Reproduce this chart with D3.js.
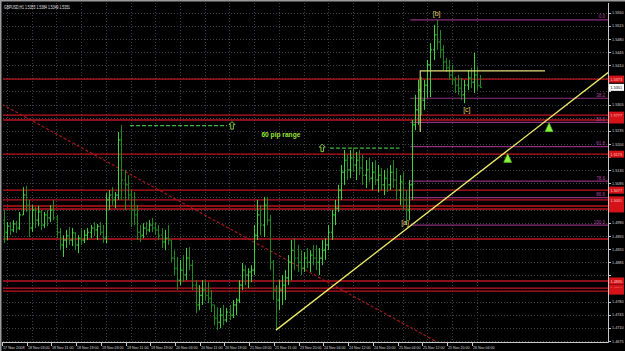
<!DOCTYPE html>
<html>
<head>
<meta charset="utf-8">
<script src="https://cdn.jsdelivr.net/npm/d3@7"></script>
<style>
body { margin: 0; background: #000; }
svg { display: block; font-family: "Liberation Sans", Arial, sans-serif; }
</style>
</head>
<body>
<svg width="625" height="351"></svg>
<script>
// GBPUSD H1 bars: [open, high, low, close]
var bars = [
[1.4997,1.5024,1.4936,1.4965],[1.4965,1.4992,1.4944,1.4981],[1.4981,1.4992,1.4957,1.4971],[1.4971,1.4997,1.4965,1.4987],
[1.4987,1.4995,1.4963,1.4976],[1.4976,1.5019,1.4971,1.5011],[1.5011,1.5085,1.5011,1.5064],[1.5064,1.5088,1.5019,1.5037],
[1.5037,1.5051,1.4952,1.4976],[1.4976,1.5037,1.4965,1.5024],[1.5024,1.5032,1.4976,1.4997],[1.4997,1.5035,1.4981,1.5019],
[1.5019,1.5024,1.4971,1.4984],[1.4984,1.5019,1.4976,1.5011],[1.5011,1.5024,1.4981,1.5003],[1.5003,1.5037,1.4992,1.5024],
[1.5024,1.5051,1.4997,1.5003],[1.5003,1.5011,1.4949,1.4965],[1.4965,1.4976,1.4917,1.4931],[1.4931,1.4957,1.4899,1.4944],
[1.4944,1.4971,1.4923,1.4955],[1.4955,1.4979,1.4931,1.4944],[1.4944,1.4976,1.4928,1.4963],[1.4963,1.4965,1.4917,1.4931],
[1.4931,1.4957,1.4909,1.4949],[1.4949,1.4976,1.4931,1.4944],[1.4944,1.4971,1.4936,1.4957],[1.4957,1.4976,1.4944,1.4965],
[1.4965,1.4984,1.4949,1.4976],[1.4976,1.4992,1.4955,1.4971],[1.4971,1.4987,1.4944,1.4981],[1.4981,1.4992,1.4957,1.4965],
[1.4965,1.4984,1.4936,1.4949],[1.4949,1.5069,1.4936,1.5051],[1.5051,1.5077,1.5024,1.5064],[1.5064,1.5085,1.5037,1.5051],
[1.5051,1.5072,1.5029,1.5064],[1.5064,1.5232,1.5051,1.5211],[1.5211,1.5251,1.5051,1.5104],[1.5104,1.5131,1.5024,1.5091],
[1.5091,1.5117,1.5051,1.5064],[1.5064,1.5077,1.4979,1.5024],[1.5024,1.5072,1.4984,1.5011],[1.5011,1.5037,1.4944,1.4965],
[1.4965,1.4984,1.4939,1.4957],[1.4957,1.4989,1.4949,1.4976],[1.4976,1.4992,1.4957,1.4971],[1.4971,1.4997,1.4965,1.4984],
[1.4984,1.5003,1.4965,1.4976],[1.4976,1.4992,1.4957,1.4971],[1.4971,1.4984,1.4944,1.4957],[1.4957,1.4976,1.4923,1.4939],
[1.4939,1.4971,1.4917,1.4949],[1.4949,1.4984,1.4931,1.4944],[1.4944,1.4944,1.4885,1.4896],[1.4896,1.4917,1.4851,1.4869],
[1.4869,1.4899,1.4811,1.4837],[1.4837,1.4891,1.4824,1.4864],[1.4864,1.4904,1.4832,1.4851],[1.4851,1.4923,1.4837,1.4896],
[1.4896,1.4925,1.4864,1.4877],[1.4877,1.4891,1.4811,1.4824],[1.4824,1.4837,1.4749,1.4771],[1.4771,1.4824,1.4757,1.4797],
[1.4797,1.4837,1.4771,1.4811],[1.4811,1.4837,1.4784,1.4797],[1.4797,1.4832,1.4776,1.4789],[1.4789,1.4811,1.4752,1.4771],
[1.4771,1.4771,1.4717,1.4736],[1.4736,1.4765,1.4704,1.4725],[1.4725,1.4763,1.4709,1.4744],[1.4744,1.4771,1.4717,1.4731],
[1.4731,1.4763,1.4725,1.4752],[1.4752,1.4771,1.4731,1.4744],[1.4744,1.4784,1.4736,1.4771],[1.4771,1.4789,1.4744,1.4784],
[1.4784,1.4837,1.4776,1.4824],[1.4824,1.4883,1.4811,1.4864],[1.4864,1.4877,1.4824,1.4851],[1.4851,1.4869,1.4816,1.4859],
[1.4859,1.4877,1.4832,1.4864],[1.4864,1.4984,1.4851,1.4957],[1.4957,1.5051,1.4944,1.5011],[1.5011,1.5037,1.4957,1.4984],
[1.4984,1.5059,1.4952,1.5037],[1.5037,1.5059,1.4984,1.4997],[1.4997,1.5011,1.4864,1.4885],[1.4885,1.4891,1.4784,1.4811],
[1.4811,1.4824,1.4704,1.4784],[1.4784,1.4837,1.4757,1.4811],[1.4811,1.4851,1.4771,1.4824],[1.4824,1.4864,1.4784,1.4843],
[1.4843,1.4904,1.4824,1.4885],[1.4885,1.4944,1.4837,1.4917],[1.4917,1.4949,1.4864,1.4896],[1.4896,1.4931,1.4859,1.4885],
[1.4885,1.4917,1.4851,1.4869],[1.4869,1.4912,1.4859,1.4896],[1.4896,1.4923,1.4869,1.4885],[1.4885,1.4917,1.4859,1.4904],
[1.4904,1.4931,1.4877,1.4896],[1.4896,1.4931,1.4864,1.4885],[1.4885,1.4923,1.4851,1.4896],[1.4896,1.4944,1.4877,1.4917],
[1.4917,1.4949,1.4891,1.4931],[1.4931,1.4984,1.4917,1.4965],[1.4965,1.5024,1.4944,1.5011],[1.5011,1.5051,1.4984,1.5029],
[1.5029,1.5091,1.5019,1.5077],[1.5077,1.5144,1.5051,1.5125],[1.5125,1.5184,1.5091,1.5157],[1.5157,1.5171,1.5104,1.5131],
[1.5131,1.5184,1.5109,1.5163],[1.5163,1.5189,1.5125,1.5144],[1.5144,1.5179,1.5104,1.5157],[1.5157,1.5184,1.5117,1.5136],
[1.5136,1.5171,1.5091,1.5117],[1.5117,1.5157,1.5083,1.5131],[1.5131,1.5163,1.5099,1.5109],[1.5109,1.5152,1.5077,1.5125],
[1.5125,1.5157,1.5091,1.5104],[1.5104,1.5144,1.5072,1.5117],[1.5117,1.5136,1.5077,1.5091],[1.5091,1.5131,1.5064,1.5109],
[1.5109,1.5136,1.5072,1.5091],[1.5091,1.5144,1.5077,1.5125],[1.5125,1.5157,1.5083,1.5104],[1.5104,1.5136,1.5051,1.5077],
[1.5077,1.5117,1.5037,1.5099],[1.5099,1.5125,1.5024,1.5051],[1.5051,1.5077,1.4984,1.5024],[1.5024,1.5104,1.4997,1.5091],
[1.5091,1.5264,1.5051,1.5251],[1.5251,1.5331,1.5237,1.5291],[1.5291,1.5371,1.5251,1.5344],[1.5344,1.5379,1.5277,1.5317],
[1.5317,1.5371,1.5291,1.5357],[1.5357,1.5424,1.5323,1.5411],[1.5411,1.5469,1.5325,1.5451],[1.5451,1.5517,1.5424,1.5491],
[1.5491,1.5531,1.5451,1.5472],[1.5472,1.5504,1.5429,1.5451],[1.5451,1.5464,1.5397,1.5419],[1.5419,1.5429,1.5392,1.5403],
[1.5403,1.5424,1.5371,1.5384],[1.5384,1.5411,1.5357,1.5371],[1.5371,1.5379,1.5336,1.5357],[1.5357,1.5384,1.5331,1.5349],
[1.5349,1.5376,1.5317,1.5331],[1.5331,1.5371,1.5309,1.5357],[1.5357,1.5397,1.5344,1.5376],[1.5376,1.5403,1.5349,1.5365],
[1.5365,1.5443,1.5336,1.5384],[1.5384,1.5405,1.5344,1.5357],[1.5355,1.5384,1.5349,1.5351]
];

var timeLabels = ["17 Nov 2008","18 Nov 03:00","18 Nov 11:00","18 Nov 19:00","19 Nov 03:00","19 Nov 11:00",
	"19 Nov 19:00","20 Nov 03:00","20 Nov 11:00","20 Nov 19:00","21 Nov 03:00","21 Nov 11:00",
	"23 Nov 20:00","24 Nov 04:00","24 Nov 12:00","24 Nov 20:00","25 Nov 04:00","25 Nov 12:00",
	"25 Nov 20:00","26 Nov 04:00"];
var barsPerLabel = 8;

var priceTicks = [1.5550,1.5515,1.5480,1.5445,1.5410,1.5375,1.5340,1.5305,1.5270,1.5235,1.5200,1.5165,1.5130,
	1.5095,1.5060,1.5025,1.4990,1.4955,1.4920,1.4885,1.4850,1.4815,1.4780,1.4745,1.4710,1.4675];

// horizontal support / resistance lines
var redLevels = [1.5373,1.5277,1.5264,1.5173,1.5077,1.5051,1.5035,1.5027,1.4947,1.4835,1.4816,1.4808];
var redBoxed  = [true,true,true,true,true,true,true,true,false,true,true,true];

// fibonacci from [b] high down to [a] low
var fibHigh = 1.5531, fibLow = 1.4984, fibStartBar = 131.5;
var fibLevels = [0, 38.2, 50, 61.8, 78.6, 86.6, 100];

// trend lines: [bar, price] anchors
var yellowTrend = [[88, 1.4704], [140, 1.5036]];
var redTrend = [[0, 1.5303], [100, 1.4853]];
var yellowFlat = {price: 1.5395, from: 134.7, to: 175.1, bottom: 1.5232};

// 60 pip range markers
var rangeHigh = 1.5249, rangeLow = 1.5189;
var rangeHighBars = [40.8, 72.2], rangeHighArrow = 73.8;
var rangeLowBars = [105.5, 128], rangeLowArrow = 103;
var rangeText = "60 pip range", rangeTextBar = 83.3, rangeTextPrice = 1.5219;

var upArrows = [[176.4, 1.5245], [163, 1.5163]];
var waveLabels = [["[b]", 140, 1.5547], ["[c]", 149.8, 1.5291], ["[a]", 129.8, 1.4992]];

var title = "GBPUSD,H1  1.5355 1.5384 1.5349 1.5351";

var svg = d3.select("svg");
var pLeft = 3, pRight = 608, pTop = 3, pBottom = 342;

var x = d3.scaleLinear().domain([0, 195]).range([4, 4 + 3.09 * 195]);
var y = d3.scaleLinear().domain([1.4675, 1.5550]).range([341, 12.7]);

svg.append("rect").attr("width", 625).attr("height", 351).attr("fill", "#000");
svg.append("defs").append("clipPath").attr("id", "plotclip")
	.append("rect").attr("x", pLeft).attr("y", pTop).attr("width", pRight - pLeft).attr("height", pBottom - pTop);

// grid
var grid = svg.append("g").attr("stroke", "#3a4048").attr("stroke-dasharray", "1,2").attr("stroke-width", 1);
grid.selectAll("line.h").data(priceTicks).enter().append("line")
	.attr("x1", pLeft).attr("x2", pRight)
	.attr("y1", function(d) { return Math.round(y(d)) + 0.5; })
	.attr("y2", function(d) { return Math.round(y(d)) + 0.5; });
grid.selectAll("line.v").data(timeLabels).enter().append("line")
	.attr("x1", function(d, i) { return Math.round(x(i * barsPerLabel)) + 3.5; })
	.attr("x2", function(d, i) { return Math.round(x(i * barsPerLabel)) + 3.5; })
	.attr("y1", pTop).attr("y2", pBottom);

var plot = svg.append("g").attr("clip-path", "url(#plotclip)");

// red descending dashed trend
function lineThrough(a, b, x0, x1) {
	var slope = (b[1] - a[1]) / (b[0] - a[0]);
	return [[x0, a[1] + slope * (x0 - a[0])], [x1, a[1] + slope * (x1 - a[0])]];
}
var rt = lineThrough(redTrend[0], redTrend[1], -2, 200);
plot.append("line")
	.attr("x1", x(rt[0][0])).attr("y1", y(rt[0][1]))
	.attr("x2", x(rt[1][0])).attr("y2", y(rt[1][1]))
	.attr("stroke", "#a3161c").attr("stroke-width", 1.2).attr("stroke-dasharray", "3,2");

// horizontal red levels
plot.selectAll("line.red").data(redLevels).enter().append("line")
	.attr("x1", pLeft).attr("x2", pRight)
	.attr("y1", function(d) { return y(d); }).attr("y2", function(d) { return y(d); })
	.attr("stroke", "#bd1420").attr("stroke-width", 1.4);

// fibonacci lines
var fibs = plot.selectAll("g.fib").data(fibLevels).enter().append("g");
fibs.append("line")
	.attr("x1", x(fibStartBar)).attr("x2", pRight)
	.attr("y1", function(d) { return y(fibHigh - (fibHigh - fibLow) * d / 100); })
	.attr("y2", function(d) { return y(fibHigh - (fibHigh - fibLow) * d / 100); })
	.attr("stroke", "#8e2f7c").attr("stroke-width", 1.2);
fibs.append("text")
	.attr("x", pRight - 3)
	.attr("y", function(d) { return y(fibHigh - (fibHigh - fibLow) * d / 100) - 1.5; })
	.attr("text-anchor", "end").attr("font-size", 4.5).attr("fill", "#b04aa0")
	.text(function(d) { return d.toFixed(1); });

// bars
plot.selectAll("path.bar").data(bars).enter().append("path")
	.attr("d", function(d, i) {
		var cx = Math.round(x(i)) + 0.5;
		return "M" + cx + "," + y(d[1]) + "V" + y(d[2]) +
			"M" + (cx - 1.5) + "," + y(d[0]) + "H" + cx +
			"M" + cx + "," + y(d[3]) + "H" + (cx + 1.5);
	})
	.attr("fill", "none")
	.attr("stroke", function(d) { return d[3] >= d[0] ? "#3fd23f" : "#1f8a1f"; })
	.attr("stroke-width", 1);

// yellow trend ray
var yt = lineThrough(yellowTrend[0], yellowTrend[1], yellowTrend[0][0], 200);
plot.append("line")
	.attr("x1", x(yt[0][0])).attr("y1", y(yt[0][1]))
	.attr("x2", x(yt[1][0])).attr("y2", y(yt[1][1]))
	.attr("stroke", "#f2ee6a").attr("stroke-width", 1.3);

// yellow flat line with drop
plot.append("path")
	.attr("d", "M" + x(yellowFlat.to) + "," + y(yellowFlat.price) +
		"H" + x(yellowFlat.from) + "V" + y(yellowFlat.bottom))
	.attr("fill", "none").attr("stroke", "#e8e07a").attr("stroke-width", 1.1);

// 60 pip range
plot.append("line")
	.attr("x1", x(rangeHighBars[0])).attr("x2", x(rangeHighBars[1]))
	.attr("y1", y(rangeHigh)).attr("y2", y(rangeHigh))
	.attr("stroke", "#3fb83f").attr("stroke-width", 1.2).attr("stroke-dasharray", "4,2");
plot.append("line")
	.attr("x1", x(rangeLowBars[0])).attr("x2", x(rangeLowBars[1]))
	.attr("y1", y(rangeLow)).attr("y2", y(rangeLow))
	.attr("stroke", "#3fb83f").attr("stroke-width", 1.2).attr("stroke-dasharray", "4,2");

function hollowArrow(g, cx, cy) {
	g.append("path")
		.attr("d", "M" + cx + "," + (cy - 4) + "L" + (cx + 3) + "," + (cy - 1) + "H" + (cx + 1.3) +
			"V" + (cy + 3.5) + "H" + (cx - 1.3) + "V" + (cy - 1) + "H" + (cx - 3) + "Z")
		.attr("fill", "none").attr("stroke", "#8fe04a").attr("stroke-width", 0.9);
}
hollowArrow(plot, x(rangeHighArrow), y(rangeHigh));
hollowArrow(plot, x(rangeLowArrow), y(rangeLow));

plot.append("text")
	.attr("x", x(rangeTextBar)).attr("y", y(rangeTextPrice))
	.attr("font-size", 7).attr("font-weight", "bold").attr("fill", "#9ae636")
	.attr("textLength", 39).attr("lengthAdjust", "spacingAndGlyphs")
	.text(rangeText);

// solid up arrows
plot.selectAll("path.up").data(upArrows).enter().append("path")
	.attr("d", function(d) {
		var cx = x(d[0]), cy = y(d[1]);
		return "M" + cx + "," + (cy - 4.5) + "L" + (cx + 4) + "," + (cy + 4.5) + "L" + (cx - 4) + "," + (cy + 4.5) + "Z";
	})
	.attr("fill", "#8cf03c").attr("stroke", "#4cc01c").attr("stroke-width", 0.6);

// wave labels
plot.selectAll("text.wave").data(waveLabels).enter().append("text")
	.attr("x", function(d) { return x(d[1]); })
	.attr("y", function(d) { return y(d[2]) + 2.5; })
	.attr("text-anchor", "middle").attr("font-size", 7).attr("fill", "#e6cf6a")
	.text(function(d) { return d[0]; });

// axes frame
svg.append("path")
	.attr("d", "M" + pRight + ".5," + pTop + "V" + (pBottom + 0.5) + "H" + pLeft)
	.attr("fill", "none").attr("stroke", "#c8c8c8").attr("stroke-width", 1);

// price axis; labels hidden under a level box are not drawn
var boxed = redLevels.filter(function(d, i) { return redBoxed[i]; });
var last = bars[bars.length - 1][3];
var covered = boxed.concat([last]);
var pa = svg.append("g");
pa.selectAll("line").data(priceTicks).enter().append("line")
	.attr("x1", pRight).attr("x2", pRight + 3)
	.attr("y1", function(d) { return Math.round(y(d)) + 0.5; })
	.attr("y2", function(d) { return Math.round(y(d)) + 0.5; })
	.attr("stroke", "#c8c8c8");
pa.selectAll("text").data(priceTicks.filter(function(t) {
		return !covered.some(function(b) { return Math.abs(y(b) - y(t)) < 6.5; });
	})).enter().append("text")
	.attr("x", pRight + 4).attr("y", function(d) { return y(d) + 1.6; })
	.attr("font-size", 4.4).attr("fill", "#d8d8d8")
	.attr("textLength", 11.5).attr("lengthAdjust", "spacingAndGlyphs")
	.text(function(d) { return d.toFixed(4); });

// red level price boxes (text only on the upper one of a merged pair)
var boxes = svg.selectAll("g.box").data(boxed).enter().append("g");
boxes.append("rect")
	.attr("x", pRight + 1).attr("y", function(d) { return y(d) - 3.5; })
	.attr("width", 15).attr("height", 7).attr("fill", "#d41318");
boxes.filter(function(d, i) { return i == 0 || Math.abs(y(boxed[i - 1]) - y(d)) > 6.5; })
	.append("text")
	.attr("x", pRight + 2.5).attr("y", function(d) { return y(d) + 1.6; })
	.attr("font-size", 4.4).attr("fill", "#ffc8c8")
	.attr("textLength", 11.5).attr("lengthAdjust", "spacingAndGlyphs")
	.text(function(d) { return d.toFixed(4); });

// current price box
svg.append("rect")
	.attr("x", pRight + 1).attr("y", y(last) - 3.5).attr("width", 15).attr("height", 7).attr("fill", "#fff");
svg.append("text")
	.attr("x", pRight + 2.5).attr("y", y(last) + 1.6)
	.attr("font-size", 4.4).attr("fill", "#000")
	.attr("textLength", 11.5).attr("lengthAdjust", "spacingAndGlyphs")
	.text(last.toFixed(4));

// time axis
var ta = svg.append("g");
ta.selectAll("line").data(timeLabels).enter().append("line")
	.attr("x1", function(d, i) { return Math.round(x(i * barsPerLabel)) - 1.5; })
	.attr("x2", function(d, i) { return Math.round(x(i * barsPerLabel)) - 1.5; })
	.attr("y1", pBottom).attr("y2", pBottom + 4)
	.attr("stroke", "#c8c8c8");
ta.selectAll("text").data(timeLabels).enter().append("text")
	.attr("x", function(d, i) { return Math.round(x(i * barsPerLabel)) - 1; })
	.attr("y", pBottom + 6.5)
	.attr("font-size", 3.9).attr("fill", "#d8d8d8")
	.attr("textLength", 21.5).attr("lengthAdjust", "spacingAndGlyphs")
	.text(function(d) { return d; });

// title
svg.append("text").attr("x", 4).attr("y", 8.5)
	.attr("font-size", 4.6).attr("fill", "#e0e0e0")
	.attr("textLength", 66).attr("lengthAdjust", "spacingAndGlyphs")
	.text(title);

// window border
svg.append("path").attr("d", "M0.5,351V0.5H625").attr("fill", "none").attr("stroke", "#9a9a9a").attr("stroke-width", 2);
</script>
</body>
</html>
